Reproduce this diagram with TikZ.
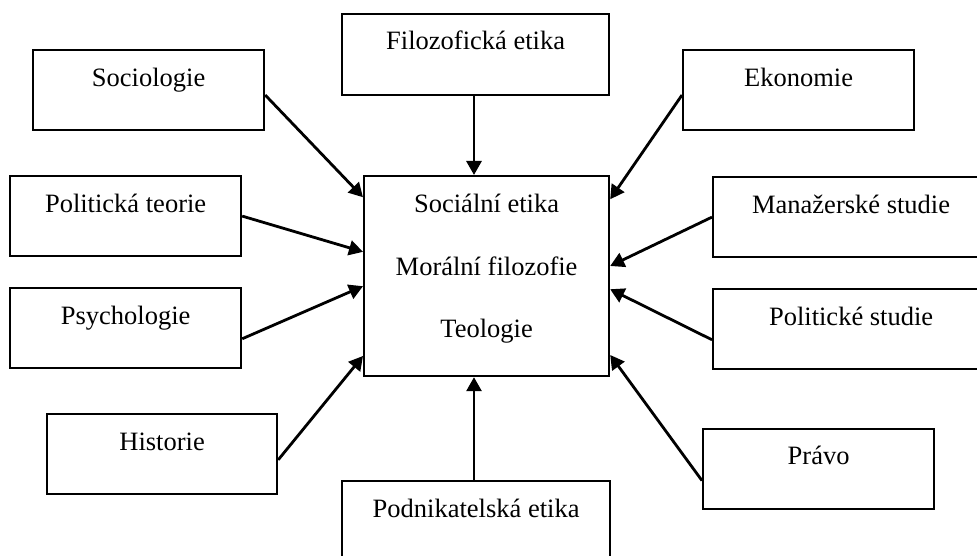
\documentclass[tikz,border=0pt]{standalone}
\usepackage{fontspec}
\setmainfont{Liberation Serif}
\usetikzlibrary{arrows.meta,calc}

\tikzset{
  field/.style={draw, line width=2.2pt, inner sep=0pt, anchor=north west,
    font=\fontsize{26.5}{32}\selectfont, text height=36pt, text depth=44pt},
  core/.style={draw, line width=2.2pt, inner sep=0pt, anchor=north west,
    minimum width=245pt, minimum height=200pt},
  coretext/.style={anchor=base, font=\fontsize{26.5}{32}\selectfont, inner sep=0pt},
  link/.style={line width=2.8pt, -{Triangle[length=14pt,width=15pt]}}
}

\begin{document}
\begin{tikzpicture}[x=1pt, y=-1pt]
\useasboundingbox (0,0) rectangle (977,556);
\clip (0,0) rectangle (977,556);

% central box with its three disciplines
\node[core] (core) at (363,175) {};
\node[coretext] (c1) at ($(core.north)+(0,37)$) {Sociální etika};
\node[coretext] (c2) at ($(core.north)+(0,100)$) {Morální filozofie};
\node[coretext] (c3) at ($(core.north)+(0,162)$) {Teologie};

% surrounding fields
\node[field, minimum width=267pt, text height=35pt, text depth=46pt] (filo) at (341,13) {Filozofická etika};
\node[field, minimum width=231pt] (soc)  at (32,49)  {Sociologie};
\node[field, minimum width=231pt] (eko)  at (682,49) {Ekonomie};
\node[field, minimum width=231pt] (pol)  at (9,175)  {Politická teorie};
\node[field, minimum width=276pt] (man)  at (712,176) {Manažerské studie};
\node[field, minimum width=231pt] (psy)  at (9,287)  {Psychologie};
\node[field, minimum width=276pt] (pst)  at (712,288) {Politické studie};
\node[field, minimum width=230pt] (his)  at (46,413) {Historie};
\node[field, minimum width=231pt, text height=35pt, text depth=45pt] (pra) at (702,428) {Právo};
\node[field, minimum width=268pt] (pod)  at (341,480) {Podnikatelská etika};

% influences pointing into the central box
\draw[link] (filo.south -| 474,0) -- (core.north -| 474,0);
\draw[link] (pod.north -| 474,0) -- (core.south -| 474,0);
\draw[link] ($(soc.north east)!0.56!(soc.south east)$) -- ($(core.north west)!0.11!(core.south west)$);
\draw[link] (pol.east) -- ($(core.north west)!0.38!(core.south west)$);
\draw[link] ($(psy.north east)!0.63!(psy.south east)$) -- ($(core.north west)!0.55!(core.south west)$);
\draw[link] ($(his.north east)!0.57!(his.south east)$) -- ($(core.north west)!0.895!(core.south west)$);
\draw[link] ($(eko.north west)!0.56!(eko.south west)$) -- ($(core.north east)!0.12!(core.south east)$);
\draw[link] (man.west) -- ($(core.north east)!0.45!(core.south east)$);
\draw[link] ($(pst.north west)!0.63!(pst.south west)$) -- ($(core.north east)!0.565!(core.south east)$);
\draw[link] ($(pra.north west)!0.64!(pra.south west)$) -- ($(core.north east)!0.89!(core.south east)$);
\end{tikzpicture}
\end{document}
